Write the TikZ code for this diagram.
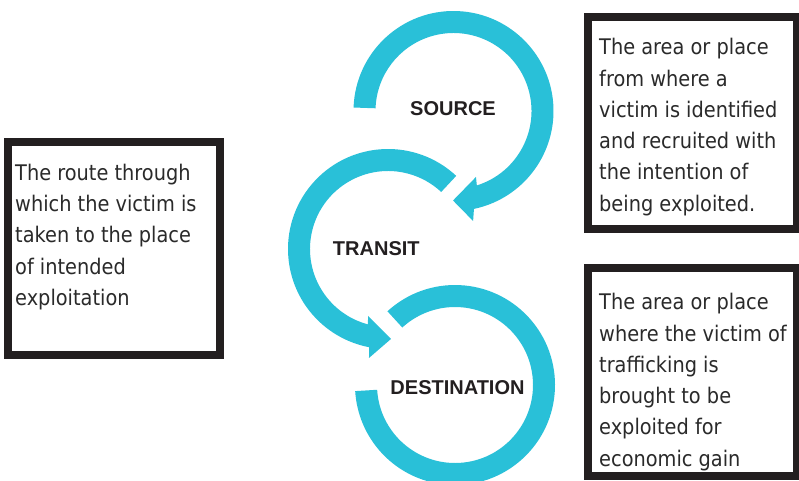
\documentclass[tikz,border=0pt]{standalone}
\usepackage{fontspec}
\setmainfont{DejaVu Sans}[FakeStretch=0.9]
\newfontfamily\lblfont{Liberation Sans}
\usetikzlibrary{calc}
\definecolor{ringcol}{HTML}{29C0D8}
\definecolor{inkcol}{HTML}{231F20}
\definecolor{bodycol}{HTML}{2A2A2A}
\tikzset{
  ring/.style={fill=ringcol, draw=none},
  infobox/.style={draw=inkcol, line width=8pt, fill=none, inner sep=0pt},
  bodytext/.style={anchor=north west, inner sep=0pt, align=left, text=bodycol,
    font=\fontsize{21.5pt}{31.3pt}\selectfont},
  stagelabel/.style={inner sep=0pt, text=inkcol, font=\lblfont\bfseries\fontsize{20pt}{24pt}\selectfont}
}
\begin{document}
\begin{tikzpicture}[x=1pt,y=1pt]
\useasboundingbox (0,0) rectangle (799,-480);
\fill[white] (0,0) rectangle (799,-480);

% circle centres
\coordinate (S) at (453.5,-111);
\coordinate (T) at (388,-249);
\coordinate (D) at (455,-385);

% SOURCE ring (clockwise, arrow at bottom)
\fill[ring] ($(S)+(178:100pt)$) arc[start angle=178, end angle=-78.2, radius=100pt]
  -- ($(S)+(-79.9:111.7pt)$) -- ($(S)+(-90.3:89.5pt)$) -- ($(S)+(-71.2:69.7pt)$)
  -- ($(S)+(-72.6:78pt)$) arc[start angle=-72.6, end angle=178, radius=78pt] -- cycle;

% TRANSIT ring (counter-clockwise, arrow at bottom)
\fill[ring] ($(T)+(47:100pt)$) arc[start angle=47, end angle=259.1, radius=100pt]
  -- ($(T)+(260.1:110.6pt)$) -- ($(T)+(271.9:90pt)$) -- ($(T)+(253.4:69.9pt)$)
  -- ($(T)+(255.1:78pt)$) arc[start angle=255.1, end angle=47, radius=78pt] -- cycle;

% DESTINATION ring
\fill[ring] ($(D)+(132.5:100pt)$) arc[start angle=132.5, end angle=-176.5, radius=100pt]
  -- ($(D)+(-176.5:78pt)$) arc[start angle=-176.5, end angle=132.5, radius=78pt] -- cycle;

% stage labels
\node[stagelabel] (source) at (453,-109) {SOURCE};
\node[stagelabel] (transit) at (376.3,-248.3) {TRANSIT};
\node[stagelabel] (destination) at (457.5,-387.7) {DESTINATION};

% boxes
\node[infobox, minimum width=212pt, minimum height=213pt] (leftbox) at (114.25,-248) {};
\node[infobox, minimum width=209pt, minimum height=212.5pt] (topbox) at (692.5,-122.75) {};
\node[infobox, minimum width=209pt, minimum height=208.5pt] (botbox) at (692.5,-371.75) {};

% box texts (first baseline = top + 22pt)
\node[bodytext] (lefttext) at (15,-158) {\rule{0pt}{22pt}The route through\\which the victim is\\taken to the place\\of intended\\exploitation};
\node[bodytext] (toptext) at (599,-32.5) {\rule{0pt}{22pt}The area or place\\from where a\\victim is identified\\and recruited with\\the intention of\\being exploited.};
\node[bodytext] (bottext) at (599,-287.5) {\rule{0pt}{22pt}The area or place\\where the victim of\\trafficking is\\brought to be\\exploited for\\economic gain};
\end{tikzpicture}
\end{document}
